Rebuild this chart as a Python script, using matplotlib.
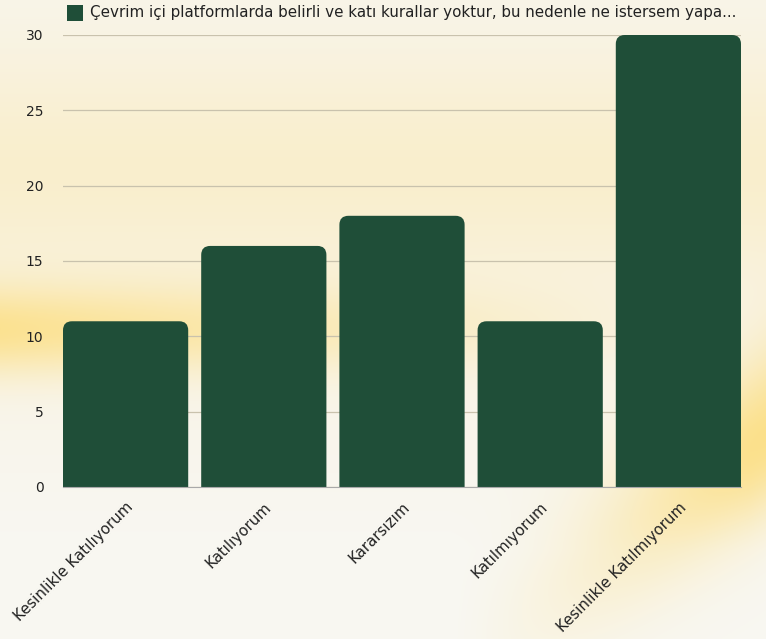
import numpy as np
import matplotlib
matplotlib.use("Agg")
import matplotlib.pyplot as plt
from matplotlib.patches import PathPatch, Rectangle
from matplotlib.path import Path

categories = ["Kesinlikle Katılıyorum", "Katılıyorum", "Kararsızım", "Katılmıyorum", "Kesinlikle Katılmıyorum"]
values = [11, 16, 18, 11, 30]
series_name = "Çevrim içi platformlarda belirli ve katı kurallar yoktur, bu nedenle ne istersem yapa..."
yticks = [0, 5, 10, 15, 20, 25, 30]

bar_color = "#1f4e38"
plt.rcParams['font.family'] = ["DejaVu Sans"]

W, H = 766, 639
fig = plt.figure(figsize=(W/100, H/100), dpi=100)

# decorative background
bg = fig.add_axes([0, 0, 1, 1], zorder=-10)
yy, xx = np.mgrid[0:H, 0:W]
base = np.array([0.975, 0.962, 0.925])
yellow = np.array([0.99, 0.86, 0.45])
img = np.ones((H, W, 3)) * base
band = np.exp(-((yy - 330) / 45.0) ** 2) * np.clip(1 - xx / 700.0, 0, 1) * 0.7
band += np.exp(-((yy - 170) / 120.0) ** 2) * 0.25
d = (xx - 766) * 0.7 + (yy - 480)
diag = np.exp(-((d + 40) / 90.0) ** 2) * np.clip((xx - 450) / 300.0, 0, 1) * 0.8
t = np.clip(band + diag, 0, 1)[..., None]
img = img * (1 - t) + yellow * t
bottom = np.clip((yy - 430) / 120.0, 0, 1)[..., None] * np.clip(1 - diag, 0, 1)[..., None] * 0.6
img = img * (1 - bottom) + np.array([0.975, 0.975, 0.965]) * bottom
bg.imshow(img, aspect='auto', extent=[0, 1, 0, 1])
bg.axis('off')

ax = fig.add_axes([63/W, 1 - 487/H, (741-63)/W, (487-35)/H])
ax.set_facecolor('none')
w = 0.906
x = np.arange(len(categories))
bars = ax.bar(x, values, width=w, color=bar_color, alpha=0)
ax.set_xlim(-w/2, len(categories) - 1 + w/2)
ax.set_ylim(0, 30)

px_x = (741-63) / (len(categories) - 1 + w)
px_y = (487-35) / 30.0
rx = 9 / px_x
ry = 9 / px_y
for b in bars:
    x0, bw, h = b.get_x(), b.get_width(), b.get_height()
    x1 = x0 + bw
    verts = [(x0, 0), (x0, h - ry), (x0, h), (x0 + rx, h), (x1 - rx, h),
             (x1, h), (x1, h - ry), (x1, 0), (x0, 0)]
    codes = [Path.MOVETO, Path.LINETO, Path.CURVE3, Path.CURVE3, Path.LINETO,
             Path.CURVE3, Path.CURVE3, Path.LINETO, Path.CLOSEPOLY]
    ax.add_patch(PathPatch(Path(verts, codes), fc=bar_color, ec='none', zorder=3))

ax.set_yticks(yticks)
ax.yaxis.grid(True, color='#c9c2ad', linewidth=0.9, zorder=0)
ax.set_axisbelow(True)
for s in ['top', 'right', 'left']:
    ax.spines[s].set_visible(False)
ax.spines['bottom'].set_color('#a9a9a9')
ax.spines['bottom'].set_zorder(4)
ax.tick_params(axis='y', length=0, labelsize=10, colors='#222222', pad=14)
ax.tick_params(axis='x', length=0, labelsize=10.8, colors='#222222', pad=9)
ax.set_xticks(x)
ax.set_xticklabels(categories, rotation=45, ha='right', rotation_mode='anchor')

# legend
fig.patches.append(Rectangle((67/W, 1 - 21/H), 16/W, 16/H, transform=fig.transFigure,
                             fc=bar_color, ec='none'))
fig.text(90/W, 1 - 13/H, series_name, fontsize=10.9, va='center', ha='left', color='#222222')

fig.savefig("out.png", dpi=100)
